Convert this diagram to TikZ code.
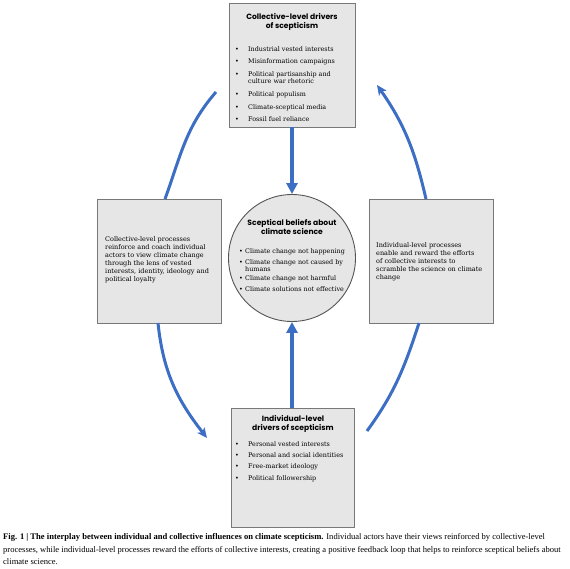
\documentclass[tikz,border=0pt]{standalone}
\usepackage{fontspec}
\setmainfont{DejaVu Serif}
\newfontfamily\ttlfont{Poppins}
\newfontfamily\capfont{Liberation Serif}
\usetikzlibrary{arrows.meta}
\definecolor{arcblue}{RGB}{60,110,196}
\definecolor{boxfill}{RGB}{230,230,230}
\definecolor{boxline}{RGB}{120,120,120}
\definecolor{circline}{RGB}{85,85,85}
\newcommand{\itembul}{\makebox[13pt][l]{•}}
\newcommand{\citembul}{\makebox[6pt][l]{•}}
\begin{document}
\begin{tikzpicture}[x=1pt,y=1pt,
  panel/.style={draw=boxline, fill=boxfill, line width=0.9pt, inner sep=0pt},
  ttl/.style={font=\ttlfont\bfseries\fontsize{7.6}{8.2}\selectfont, align=center, inner sep=0pt},
  items/.style={font=\fontsize{6.4}{6.8}\selectfont, align=left, inner sep=0pt, anchor=north west},
  side/.style={font=\fontsize{6.5}{8}\selectfont, align=left, inner sep=0pt, anchor=west},
  varrow/.style={draw=arcblue, line width=4pt, -{Triangle[length=11pt,width=11pt]}},
  arcline/.style={draw=arcblue, line width=3pt},
  arcarrow/.style={draw=arcblue, line width=3pt, -{Stealth[length=10pt,width=9pt,inset=2.5pt]}}
]
\useasboundingbox (0,0) rectangle (570,-569);

% panels
\node[panel, minimum width=126pt, minimum height=124pt] (top) at (292,-65) {};
\node[panel, circle, draw=circline, minimum size=127pt] (circ) at (292,-258) {};
\node[panel, minimum width=124pt, minimum height=124pt] (left) at (159,-261) {};
\node[panel, minimum width=124pt, minimum height=124pt] (right) at (431,-261) {};
\node[panel, minimum width=123pt, minimum height=119pt] (bottom) at (293,-467.5) {};

% top box text
\node[ttl] (toptitle) at (292,-22) {Collective-level drivers\\of scepticism};
\node[items] (topitems) at (235,-46) {%
\itembul Industrial vested interests\\[6pt]
\itembul Misinformation campaigns\\[6pt]
\itembul Political partisanship and\\
\hspace*{13pt}culture war rhetoric\\[6pt]
\itembul Political populism\\[6pt]
\itembul Climate-sceptical media\\[6pt]
\itembul Fossil fuel reliance};

% circle text
\node[ttl] (circtitle) at (292,-227) {Sceptical beliefs about\\climate science};
\node[items, font=\fontsize{6.4}{6.8}\selectfont] (circitems) at (239,-248.5) {%
\citembul Climate change not happening\\[4pt]
\citembul Climate change not caused by\\
\hspace*{6pt}humans\\[3pt]
\citembul Climate change not harmful\\[3.5pt]
\citembul Climate solutions not effective};

% side texts
\node[side] (lefttext) at (105,-260) {Collective-level processes\\reinforce and coach individual\\actors to view climate change\\through the lens of vested\\interests, identity, ideology and\\political loyalty};
\node[side] (righttext) at (376,-261.5) {Individual-level processes\\enable and reward the efforts\\of collective interests to\\scramble the science on climate\\change};

% bottom box text
\node[ttl] (bottitle) at (293,-424) {Individual-level\\drivers of scepticism};
\node[items] (botitems) at (235,-441.5) {%
\itembul Personal vested interests\\[4.4pt]
\itembul Personal and social identities\\[4.4pt]
\itembul Free-market ideology\\[4.4pt]
\itembul Political followership};

% vertical arrows
\draw[varrow] (top.south) -- (circ.north);
\draw[varrow] (bottom.north -| circ.south) -- (circ.south);

% loop arcs
\coordinate (a1s) at (216,-92);
\coordinate (a1e) at (165,-199);
\coordinate (a2s) at (158,-323);
\coordinate (a2e) at (207,-438);
\coordinate (a3s) at (367,-431);
\coordinate (a3e) at (419,-323);
\coordinate (a4s) at (426,-199);
\coordinate (a4e) at (377,-85);
\draw[arcline] (a1s) to[out=229,in=70] (a1e);
\draw[arcarrow] (a2s) to[out=276,in=128] (a2e);
\draw[arcline] (a3s) to[out=54,in=252] (a3e);
\draw[arcarrow] (a4s) to[out=103,in=305] (a4e);

% caption
\node[font=\capfont\fontsize{8.55}{12.5}\selectfont, align=left, inner sep=0pt, anchor=north west] (caption) at (3,-533.5) {%
\textbf{Fig. 1 | The interplay between individual and collective influences on climate scepticism.} Individual actors have their views reinforced by collective-level\\
processes, while individual-level processes reward the efforts of collective interests, creating a positive feedback loop that helps to reinforce sceptical beliefs about\\
climate science.};
\end{tikzpicture}
\end{document}
